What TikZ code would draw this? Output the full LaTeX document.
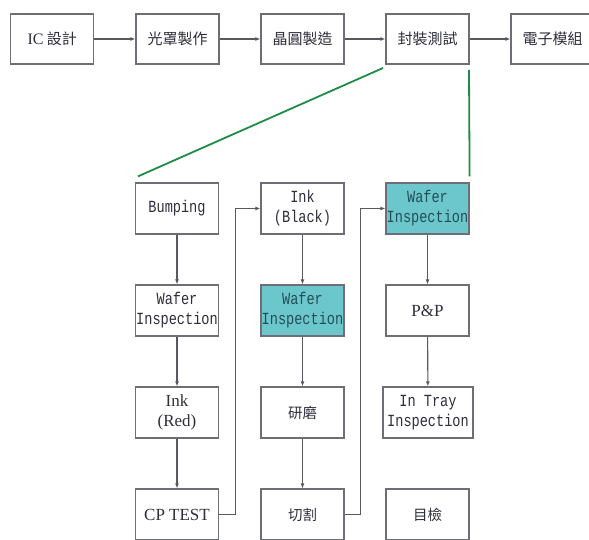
\documentclass[tikz,border=0pt]{standalone}
\usepackage{fontspec}
\newfontfamily\cjk{Noto Sans CJK TC}
\newfontfamily\monof[FakeStretch=0.8]{Liberation Mono}
\newfontfamily\serf{Liberation Serif}
\usetikzlibrary{arrows.meta}
\definecolor{boxline}{HTML}{6E6E78}
\definecolor{txt}{HTML}{2E2E3C}
\definecolor{tealfill}{HTML}{6CC7CC}
\definecolor{tealtxt}{HTML}{234E58}
\definecolor{grn}{HTML}{1E8C46}
\tikzset{
  box/.style={draw=boxline, line width=1.2pt, fill=white, minimum width=83pt, minimum height=51pt, inner sep=0pt, align=center, text=txt, font=\monof\fontsize{17}{20}\selectfont},
  topbox/.style={box, minimum height=50pt, font=\cjk\fontsize{15}{18}\selectfont},
  cjkbox/.style={font=\cjk\fontsize{14.5}{18}\selectfont},
  hl/.style={fill=tealfill, text=tealtxt},
  serbox/.style={font=\serf\fontsize{17}{20}\selectfont},
  conn/.style={draw=boxline!80!black, line width=1.1pt, -{Latex[length=5pt,width=4pt]}},
  grnline/.style={draw=grn, line width=1.8pt}
}
\begin{document}
\begin{tikzpicture}[x=1pt,y=-1pt]
\useasboundingbox (0,0) rectangle (589,540);
\clip (0,0) rectangle (589,540);
% top row
\node[topbox] (ic) at (52.25,39) {{\serf\fontsize{16}{18}\selectfont IC} 設計};
\node[topbox] (mask) at (177.5,39) {光罩製作};
\node[topbox] (wafer) at (302.5,39) {晶圓製造};
\node[topbox] (pkg) at (427.5,39) {封裝測試};
\node[topbox] (mod) at (552.5,39) {電子模組};
\draw[conn] (ic) -- (mask);
\draw[conn] (mask) -- (wafer);
\draw[conn] (wafer) -- (pkg);
\draw[conn] (pkg) -- (mod);
% column 1
\node[box] (bump) at (177,208.5) {Bumping};
\node[box] (wi1) at (177,310.5) {Wafer\\Inspection};
\node[box, serbox] (inkr) at (177,412.5) {Ink\\(Red)};
\node[box, serbox] (cp) at (177,514.5) {CP TEST};
% column 2
\node[box] (inkb) at (302.5,208.5) {Ink\\(Black)};
\node[box, hl] (wi2) at (302.5,310.5) {Wafer\\Inspection};
\node[box, cjkbox] (grind) at (302.5,412.5) {研磨};
\node[box, cjkbox] (saw) at (302.5,514.5) {切割};
% column 3
\node[box, hl] (wi3) at (427.5,208.5) {Wafer\\Inspection};
\node[box, serbox] (pp) at (427.5,310.5) {P\&P};
\node[box, minimum width=90pt] (tray) at (428,412.5) {In Tray\\Inspection};
\node[box, cjkbox] (eye) at (427.5,514.5) {目檢};
% vertical arrows
\draw[conn] (bump) -- (wi1);
\draw[conn] (wi1) -- (inkr);
\draw[conn] (inkr) -- (cp);
\draw[conn] (inkb) -- (wi2);
\draw[conn] (wi2) -- (grind);
\draw[conn] (grind) -- (saw);
\draw[conn] (wi3) -- (pp);
\draw[conn] (pp) -- (tray);
% loop connectors
\draw[conn] (cp.east) -- ++(16,0) |- (inkb.west);
\draw[conn] (saw.east) -- ++(16,0) |- (wi3.west);
% green lines
\coordinate (g1) at (383,68);
\coordinate (g2) at (469,70);
\draw[grnline] (g1) -- ([xshift=3pt,yshift=6pt]bump.north west);
\draw[grnline] (g2) -- ([yshift=6pt]wi3.north east);
\end{tikzpicture}
\end{document}
